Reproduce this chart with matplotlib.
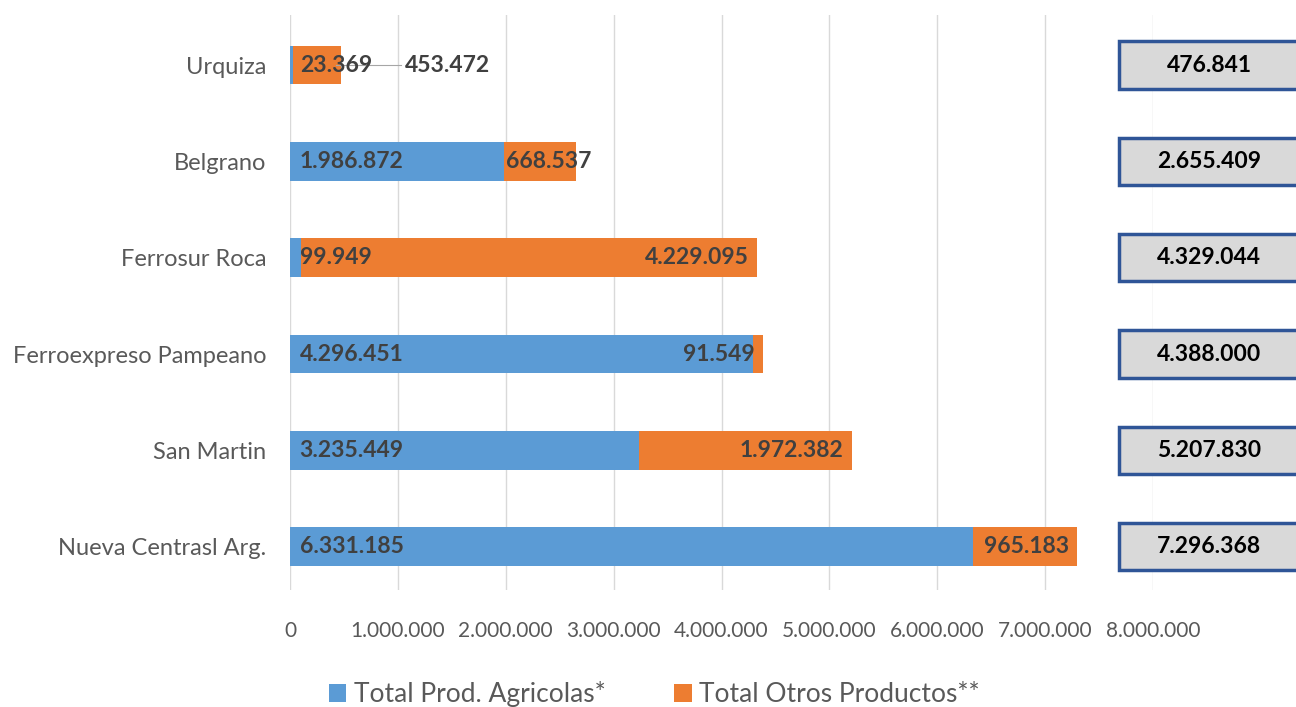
import matplotlib.pyplot as plt
from matplotlib.patches import Rectangle
from matplotlib.transforms import blended_transform_factory

# data
lines = ["Nueva Centrasl Arg.", "San Martin", "Ferroexpreso Pampeano",
         "Ferrosur Roca", "Belgrano", "Urquiza"]
agricolas = [6331185, 3235449, 4296451, 99949, 1986872, 23369]
otros = [965183, 1972382, 91549, 4229095, 668537, 453472]
totals = [7296368, 5207830, 4388000, 4329044, 2655409, 476841]
xticks = [0, 1000000, 2000000, 3000000, 4000000, 5000000, 6000000, 7000000, 8000000]


def fmt(v):
    return f"{v:,}".replace(",", ".")


def main():
    plt.rcParams['font.family'] = ['Lato', 'DejaVu Sans']
    blue = "#5b9bd5"
    orange = "#ed7d31"
    dark = "#404040"

    fig = plt.figure(figsize=(12.96, 7.07), dpi=100)
    ax = fig.add_axes([290 / 1296, 117 / 707, 863 / 1296, 575 / 707])

    y = list(range(len(lines)))
    ax.barh(y, agricolas, height=0.4, color=blue, label="Total Prod. Agricolas*", zorder=2)
    ax.barh(y, otros, left=agricolas, height=0.4, color=orange,
            label="Total Otros Productos**", zorder=2)

    ax.set_xlim(0, 8000000)
    ax.set_ylim(-0.45, 5.52)
    ax.set_xticks(xticks)
    ax.set_xticklabels([fmt(t) for t in xticks])
    ax.set_yticks(y)
    ax.set_yticklabels(lines)
    ax.tick_params(axis="both", length=0, labelcolor="#595959")
    ax.tick_params(axis="x", pad=22, labelsize=15)
    ax.tick_params(axis="y", pad=17, labelsize=17)
    ax.grid(axis="x", color="#d9d9d9", linewidth=1, zorder=0)
    for s in ax.spines.values():
        s.set_visible(False)

    lab = dict(fontsize=16.5, fontweight="bold", color=dark, va="center", zorder=3)
    for i in y:
        # blue values at the base of the bar
        ax.annotate(fmt(agricolas[i]), (0, i), xytext=(7, 0), textcoords="offset points",
                    ha="left", **lab)
        end = agricolas[i] + otros[i]
        if lines[i] == "Urquiza":
            ax.annotate(fmt(otros[i]), (end, i), xytext=(46, 0), textcoords="offset points",
                        ha="left", **lab)
            ax.plot([end - 50000, 1030000], [i, i], color="#a6a6a6", lw=0.8, zorder=2.5)
        elif lines[i] == "Belgrano":
            ax.annotate(fmt(otros[i]), (agricolas[i], i), xytext=(1, 0),
                        textcoords="offset points", ha="left", **lab)
        else:
            ax.annotate(fmt(otros[i]), (end, i), xytext=(-6, 0), textcoords="offset points",
                        ha="right", **lab)

    # total boxes on the right
    tr = blended_transform_factory(fig.transFigure, ax.transData)
    for i in y:
        ax.add_patch(Rectangle((1119 / 1296, i - 0.245), 0.2, 0.49, transform=tr,
                               facecolor="#d9d9d9", edgecolor="#2f5597", linewidth=2.5,
                               clip_on=False, zorder=4))
        ax.text(1209 / 1296, i, fmt(totals[i]), transform=tr, ha="center", va="center",
                fontsize=16.5, fontweight="bold", color="black", zorder=5)

    fig.legend(loc="center", bbox_to_anchor=(0.505, 0.018), ncol=2, frameon=False,
               fontsize=19, labelcolor="#595959", handlelength=0.65, handleheight=0.65,
               handletextpad=0.3, columnspacing=2.6)

    plt.savefig("out.png", dpi=100)


if __name__ == '__main__':
    main()
